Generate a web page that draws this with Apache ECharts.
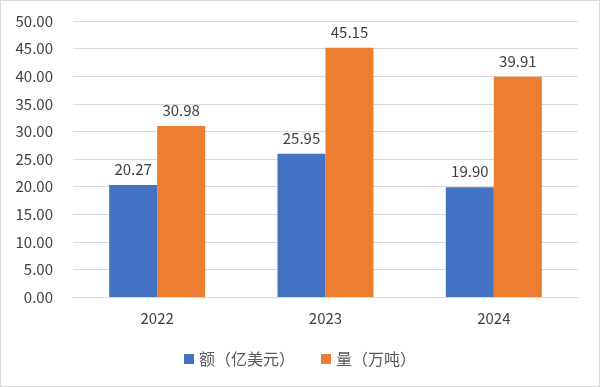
<!DOCTYPE html>
<html><head><meta charset="utf-8">
<script src="https://cdn.jsdelivr.net/npm/echarts@6/dist/echarts.min.js"></script>
<style>html,body{margin:0;padding:0;background:#fff;}#c{width:600px;height:387px;box-sizing:border-box;border:1px solid #d9d9d9;}</style>
</head><body><div id="c"></div>
<script>
const categories = ['2022', '2023', '2024'];
const amountValues = [20.27, 25.95, 19.90];
const volumeValues = [30.98, 45.15, 39.91];
const seriesNames = ['额（亿美元）', '量（万吨）'];
const chart = echarts.init(document.getElementById('c'));
const font = '"Noto Sans CJK SC", "Noto Sans", sans-serif';
const lbl = {show: true, position: 'top', distance: 8, fontSize: 15, color: '#404040', fontFamily: font, formatter: p => p.value.toFixed(2)};
chart.setOption({
  animation: false,
  textStyle: {fontFamily: font},
  grid: {left: 72, right: 21, top: 20, bottom: 89},
  legend: {bottom: 14, left: 'center', itemWidth: 10, itemHeight: 10, itemGap: 26, icon: 'rect',
    textStyle: {fontSize: 16, color: '#595959', fontFamily: font}, data: seriesNames},
  xAxis: {type: 'category', data: categories,
    axisLine: {lineStyle: {color: '#d9d9d9'}}, axisTick: {show: false},
    axisLabel: {fontSize: 15, color: '#404040', margin: 14, fontFamily: font}},
  yAxis: {type: 'value', min: 0, max: 50, interval: 5,
    axisLine: {show: false}, axisTick: {show: false},
    splitLine: {lineStyle: {color: '#d9d9d9'}},
    axisLabel: {fontSize: 15, color: '#404040', margin: 20, fontFamily: font, formatter: v => v.toFixed(2)}},
  series: [
    {name: seriesNames[0], type: 'bar', data: amountValues, barWidth: 48, barGap: '0%',
      itemStyle: {color: '#4472C4'}, label: lbl},
    {name: seriesNames[1], type: 'bar', data: volumeValues, barWidth: 48,
      itemStyle: {color: '#ED7D31'}, label: lbl}
  ]
});
</script></body></html>
